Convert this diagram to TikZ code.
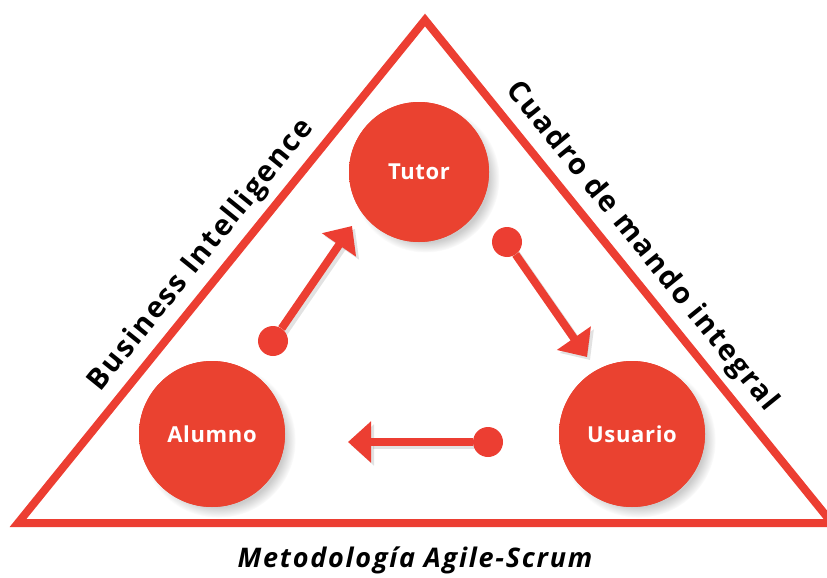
\documentclass[tikz,border=0pt]{standalone}
\usepackage{fontspec}
\setmainfont{Open Sans}
\newfontfamily\trackfont[LetterSpace=6.5]{Open Sans}
\newfontfamily\ballfont[LetterSpace=3]{Open Sans}
\usepackage{xcolor}
\usepackage{tikz}
\usetikzlibrary{arrows.meta,shadows}

\definecolor{scrumred}{RGB}{236,62,50}
\definecolor{ballred}{RGB}{234,66,48}
\pgfdeclareradialshading{ballshade}{\pgfpoint{3bp}{3bp}}{color(0bp)=(ballred); color(28bp)=(ballred); color(40bp)=(ballred!90!black); color(50bp)=(ballred!50!black)}

\tikzset{
        ball/.style={circle, fill=ballred, text=white, inner sep=0pt,
                font=\ballfont\fontsize{22}{26}\selectfont\bfseries,
                path picture={\shade[shading=ballshade] (path picture bounding box.south west) rectangle (path picture bounding box.north east);},
                circular drop shadow={shadow xshift=6pt, shadow yshift=-6pt, shadow scale=1.06, opacity=.4}},
        dot/.style={circle, fill=scrumred, minimum size=30pt, inner sep=0pt},
        link/.style={scrumred, line width=8pt, -{Triangle[length=23pt,width=40pt]}},
        linkshade/.style={black!45, opacity=.25, line width=8pt, -{Triangle[length=23pt,width=40pt]},
                transform canvas={shift={(3pt,-3pt)}}},
        side/.style={font=\trackfont\fontsize{29}{34}\selectfont\bfseries, sloped, above=11pt, inner sep=0pt}
}

\begin{document}
\begin{tikzpicture}[x=1pt, y=-1pt]
        \useasboundingbox (0,0) rectangle (827,578);

        \coordinate (bl) at (18,523);
        \coordinate (apex) at (425,20);
        \coordinate (br) at (832,523);
        \draw[scrumred, line width=8pt, line join=miter] (bl) -- (apex) -- (br) -- cycle;
        \path (bl) -- (apex) node[side, midway] (bi) {Business Intelligence};
        \path (apex) -- (br) node[side, pos=.483] (cmi) {Cuadro de mando integral};
        \node[anchor=base, font=\trackfont\fontsize{27}{32}\selectfont\bfseries\itshape] (method) at (415,567) {Metodología Agile-Scrum};

        \node[ball, minimum size=140pt] (tutor) at (419,172) {Tutor};
        \node[ball, minimum size=146pt] (alumno) at (212,434) {Alumno};
        \node[ball, minimum size=146pt] (usuario) at (632,434) {Usuario};

        \coordinate (t1) at (352,226);
        \coordinate (t2) at (587,357);
        \coordinate (t3) at (348,442);
        \draw[linkshade] (273,341) -- (t1);
        \draw[linkshade] (507,242) -- (t2);
        \draw[linkshade] (488,442) -- (t3);
        \node[dot] (d1) at (273,341) {};
        \node[dot] (d2) at (507,242) {};
        \node[dot] (d3) at (488,442) {};
        \draw[link] (d1) -- (t1);
        \draw[link] (d2) -- (t2);
        \draw[link] (d3) -- (t3);
\end{tikzpicture}
\end{document}
